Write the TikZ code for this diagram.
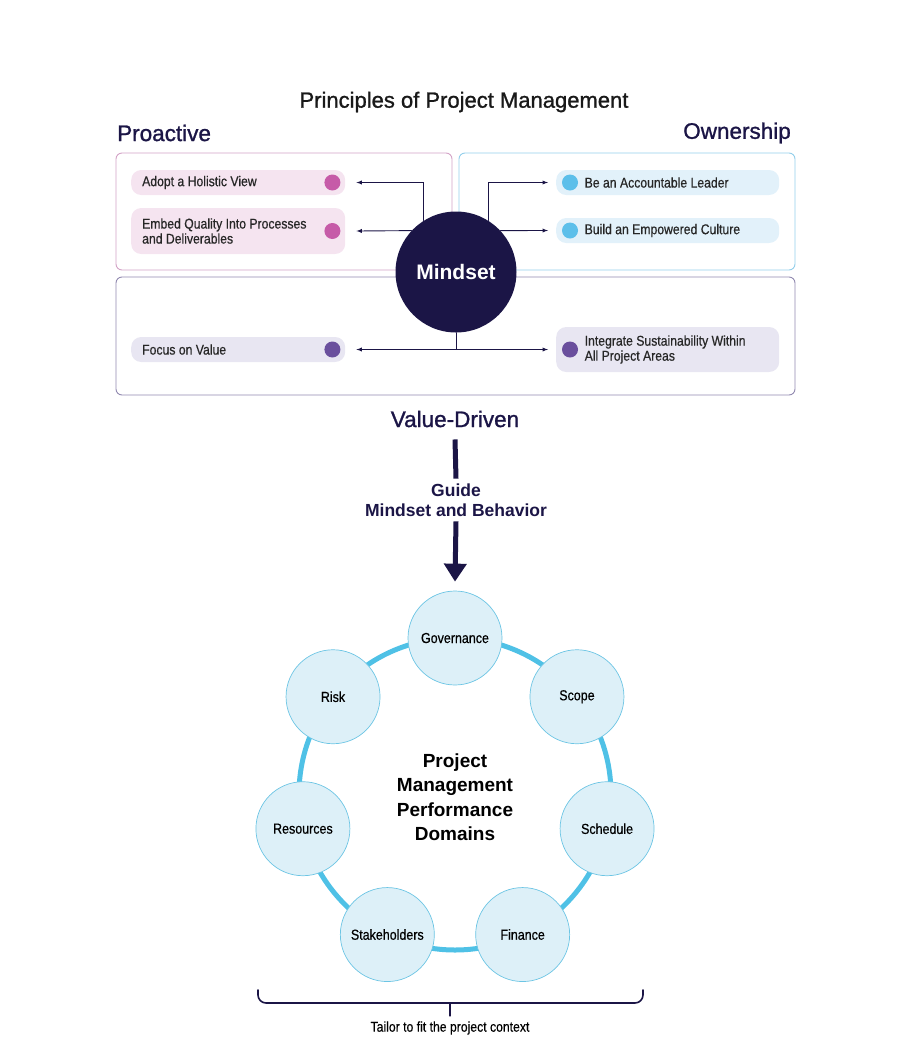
\documentclass[tikz,border=0pt]{standalone}
\usepackage{fontspec}
\setmainfont{Liberation Sans}
\newfontfamily\condfont[FakeStretch=0.86,FakeBold=0.5]{Liberation Sans}
\newfontfamily\headfont[FakeBold=1.1]{Liberation Sans}
\usetikzlibrary{arrows.meta,calc}
\definecolor{navy}{HTML}{1B1546}
\definecolor{pinkline}{HTML}{D3A2C6}
\definecolor{pinkfill}{HTML}{F5E4F0}
\definecolor{pinkdot}{HTML}{C65BA8}
\definecolor{blueline}{HTML}{92CEEA}
\definecolor{bluefill}{HTML}{E2F1FA}
\definecolor{bluedot}{HTML}{5CBFEA}
\definecolor{violetline}{HTML}{9189AF}
\definecolor{violetfill}{HTML}{E8E6F2}
\definecolor{violetdot}{HTML}{6A4F9D}
\definecolor{ringblue}{HTML}{4FC1E6}
\definecolor{domfill}{HTML}{DDF0F8}
\definecolor{domline}{HTML}{6CC5E4}

\begin{document}
\begin{tikzpicture}[x=1pt,y=-1pt,>=latex,line cap=round,
  heading/.style={text=navy,font=\headfont\fontsize{22.5}{26}\selectfont,inner sep=0pt},
  group/.style={rounded corners=6pt,line width=.9pt},
  pill/.style={rounded corners=10pt,text width=#1,align=flush left,minimum height=25pt,
    inner xsep=11pt,inner ysep=3pt,text=black!85,font=\condfont\fontsize{14.2}{15}\selectfont},
  dot/.style={circle,inner sep=0pt,minimum size=16pt},
  link/.style={navy,line width=.9pt},
  pdball/.style={circle,draw=domline,fill=domfill,line width=.7pt,minimum size=94pt,
    inner sep=0pt,font=\condfont\fontsize{14.5}{16}\selectfont}]
  \useasboundingbox (0,0) rectangle (916,1061);
  % principles: three groups round the mindset
  \node[heading,text=black!90,font=\headfont\fontsize{22}{26}\selectfont] (title) at (464,102) {Principles of Project Management};
  \node[heading,anchor=west] (proactive) at (117,133) {Proactive};
  \node[heading,anchor=east] (owner) at (791,133) {Ownership};
  \draw[group,draw=pinkline] (116,153) rectangle (452,270);
  \draw[group,draw=blueline] (459,153) rectangle (795,270);
  \draw[group,draw=violetline] (116,277) rectangle (795,395);
  \node[heading] (vd) at (455,419) {Value-Driven};

  \node[pill=192pt,fill=pinkfill,anchor=west] (adopt) at (131,182.5) {Adopt a Holistic View};
  \node[pill=192pt,fill=pinkfill,anchor=west,minimum height=46pt] (embed) at (131,231) {Embed Quality Into Processes\\and Deliverables};
  \node[pill=192pt,fill=violetfill,anchor=west] (focus) at (131,349.5) {Focus on Value};
  \node[pill=166pt,inner xsep=28.5pt,fill=bluefill,anchor=west] (lead) at (556,182.5) {Be an Accountable Leader};
  \node[pill=166pt,inner xsep=28.5pt,fill=bluefill,anchor=west] (culture) at (556,230.5) {Build an Empowered Culture};
  \node[pill=166pt,inner xsep=28.5pt,fill=violetfill,anchor=west,minimum height=45pt] (integ) at (556,349.5) {Integrate Sustainability Within\\All Project Areas};
  \node[dot,fill=pinkdot] (adoptdot) at ($(adopt.east)+(-13,0)$) {};
  \node[dot,fill=pinkdot] (embeddot) at ($(embed.east)+(-13,0)$) {};
  \node[dot,fill=violetdot] (focusdot) at ($(focus.east)+(-13,0)$) {};
  \node[dot,fill=bluedot] (leaddot) at ($(lead.west)+(14,0)$) {};
  \node[dot,fill=bluedot] (culturedot) at ($(culture.west)+(14,0)$) {};
  \node[dot,fill=violetdot] (integdot) at ($(integ.west)+(14,0)$) {};

  \node[circle,fill=navy,minimum size=121pt,inner sep=0pt,text=white,
    font=\bfseries\fontsize{21}{25}\selectfont] (mind) at (456,272) {Mindset};
  \draw[link,->] (mind.122) |- ($(adopt.east)+(11,0)$);
  \draw[link,->] (mind.137) -- ($(embed.east)+(11,0)$);
  \draw[link,->] (mind.58) |- ($(lead.west)+(-8,0)$);
  \draw[link,->] (mind.43) -- ($(culture.west)+(-8,0)$);
  \draw[link] (mind.south) -- (mind.south |- focus.east);
  \draw[link,<->] ($(focus.east)+(11,0)$) -- ($(integ.west)+(-8,0)$);

  % guide arrow
  \node[text=navy,font=\bfseries\fontsize{17.5}{19.5}\selectfont,align=center,inner sep=2pt] (guide) at (456,500) {Guide\\Mindset and Behavior};
  \draw[navy,line width=5pt,line cap=butt] ($(vd.south)+(0,12)$) -- ($(guide.north)+(0,-3)$);

  % performance domains on the ring
  \coordinate (hub) at (455,794);
  \draw[ringblue,line width=5pt] (hub) circle[radius=156];
  \foreach \name/\txt/\ang in {gov/Governance/-90,scope/Scope/-38.57,sched/Schedule/12.86,
      fin/Finance/64.29,stake/Stakeholders/115.71,res/Resources/167.14,risk/Risk/218.57}
    \node[pdball] (\name) at ($(hub)+(\ang:156)$) {\txt};
  \node[font=\bfseries\fontsize{19}{24.5}\selectfont,align=center] (pmpd) at ($(hub)+(0,3)$) {Project\\Management\\Performance\\Domains};
  \draw[navy,line width=5pt,line cap=butt,-{Triangle[width=22pt,length=18pt]}] ($(guide.south)+(0,3)$) -- ($(gov.north)+(0,-9)$);

  % tailoring brace
  \node[font=\condfont\fontsize{14.2}{16}\selectfont] (tailor) at (450,1028) {Tailor to fit the project context};
  \coordinate (bl) at (258,990);
  \coordinate (br) at (643,990);
  \coordinate (bmid) at (450,1003);
  \draw[navy,line width=1.6pt,rounded corners=8pt] (bl) -- (bl |- bmid) -- (br |- bmid) -- (br);
  \draw[navy,line width=1.6pt] (bmid) -- ($(tailor.north)+(0,-2)$);
\end{tikzpicture}
\end{document}
